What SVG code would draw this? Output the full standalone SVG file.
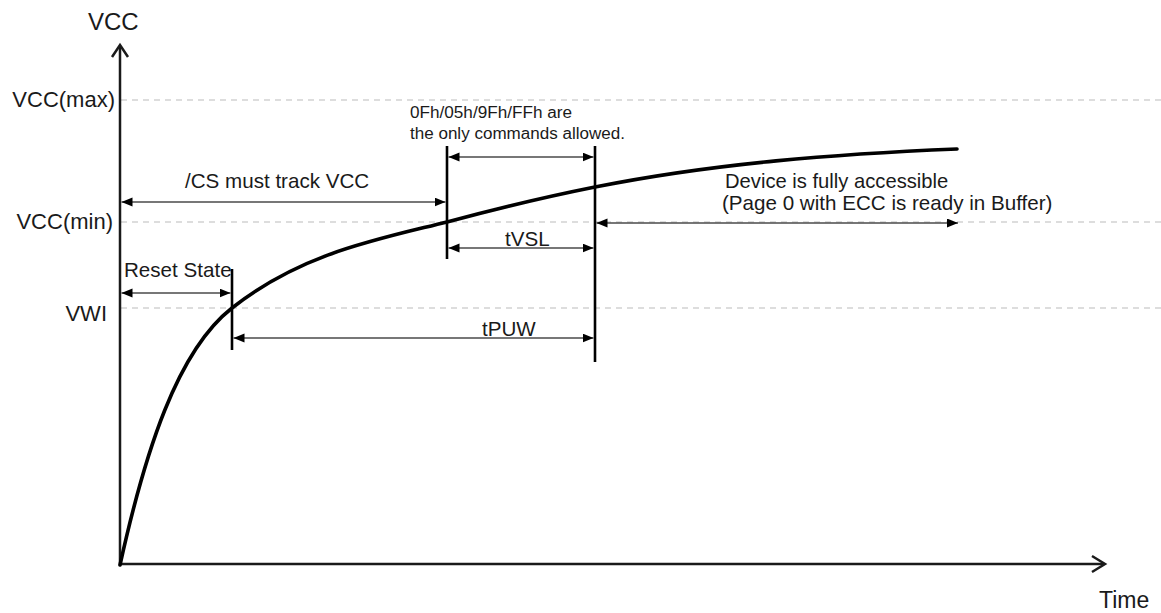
<svg xmlns="http://www.w3.org/2000/svg" width="1161" height="613" viewBox="0 0 1161 613">
<style>
text{font-family:"Liberation Sans",Arial,sans-serif;fill:#1a1a1a}
.ax{font-size:22px}
.lb{font-size:20.6px}
.sm{font-size:16px}
.dash{stroke:#d2d2d2;stroke-width:1.5;stroke-dasharray:6 5;fill:none}
.axis{stroke:#1a1a1a;stroke-width:2.5;fill:none}
.head{stroke:#1a1a1a;stroke-width:2.5;fill:none;stroke-linejoin:miter}
.dim{stroke:#4a4a4a;stroke-width:1.6;fill:none;marker-start:url(#ah);marker-end:url(#ah)}
.mark{stroke:#000;stroke-width:2.6;fill:none}
.curve{stroke:#000;stroke-width:3.6;fill:none;stroke-linecap:round}
</style>
<defs>
<marker id="ah" markerUnits="userSpaceOnUse" markerWidth="12" markerHeight="10" refX="11" refY="4.5" orient="auto-start-reverse" viewBox="0 0 12 10">
<path d="M0,0 L11,4.5 L0,9 z" fill="#000"/>
</marker>
</defs>
<rect width="1161" height="613" fill="#fff"/>
<g id="grid">
<line class="dash" x1="121" y1="100" x2="1161" y2="100"/>
<line class="dash" x1="121" y1="222" x2="1161" y2="222"/>
<line class="dash" x1="121" y1="308" x2="1161" y2="308"/>
</g>
<g id="axes">
<line class="axis" x1="120" y1="565" x2="120" y2="46"/>
<polyline class="head" points="112,57 120,45 128,57"/>
<line class="axis" x1="119" y1="564" x2="1104" y2="564"/>
<polyline class="head" points="1092,556 1105,564 1092,572"/>
<text class="ax" x="88" y="30" style="font-size:24px">VCC</text>
<text class="ax" x="1099" y="608" style="font-size:23px">Time</text>
</g>
<g id="level-labels">
<text class="ax" x="115" y="107" text-anchor="end">VCC(max)</text>
<text class="ax" x="113" y="229" text-anchor="end">VCC(min)</text>
<text class="ax" x="107" y="321" text-anchor="end">VWI</text>
</g>
<g id="vcc-curve">
<path class="curve" d="M120,565 C145,452 177,351 232,308 C302,253 377,239.5 447,222 C496,208.8 546,196.8 595,187 C715,163 837,154 957,149"/>
</g>
<g id="markers">
<line class="mark" x1="232" y1="269" x2="232" y2="350"/>
<line class="mark" x1="447" y1="146" x2="447" y2="259"/>
<line class="mark" x1="595" y1="146" x2="595" y2="362"/>
</g>
<g id="connectors">
<line class="dim" x1="448.5" y1="157" x2="593.5" y2="157"/>
<line class="dim" x1="121.5" y1="202" x2="445.5" y2="202"/>
<line class="dim" x1="448.5" y1="248" x2="593.5" y2="248"/>
<line class="dim" x1="596.5" y1="223" x2="958" y2="223"/>
<line class="dim" x1="121.5" y1="293" x2="230.5" y2="293"/>
<line class="dim" x1="233.5" y1="338" x2="593.5" y2="338"/>
</g>
<g id="commands-label">
<text class="sm" x="410" y="118" textLength="162" lengthAdjust="spacingAndGlyphs">0Fh/05h/9Fh/FFh are</text>
<text class="sm" x="410" y="139" textLength="215" lengthAdjust="spacingAndGlyphs">the only commands allowed.</text>
</g>
<g id="cs-label">
<text class="lb" x="185" y="188">/CS must track VCC</text>
</g>
<g id="device-label">
<text class="lb" x="725" y="188" style="font-size:20.2px">Device is fully accessible</text>
<text class="lb" x="722" y="210">(Page 0 with ECC is ready in Buffer)</text>
</g>
<g id="tvsl-label">
<text class="lb" x="505" y="246">tVSL</text>
</g>
<g id="tpuw-label">
<text class="lb" x="482" y="336">tPUW</text>
</g>
<g id="reset-label">
<text class="lb" x="124" y="277">Reset State</text>
</g>
</svg>
